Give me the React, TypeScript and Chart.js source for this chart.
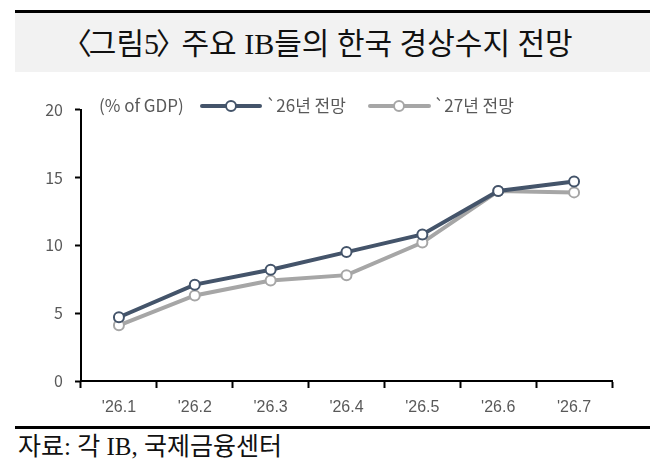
import { useEffect, useRef } from 'react'
import { Chart, registerables } from 'chart.js'

Chart.register(...registerables)

const periods = ["'26.1", "'26.2", "'26.3", "'26.4", "'26.5", "'26.6", "'26.7"]
const outlook26 = [4.7, 7.1, 8.2, 9.5, 10.8, 14.0, 14.7]
const outlook27 = [4.1, 6.3, 7.4, 7.8, 10.2, 14.0, 13.9]
const seriesNames = ['`26년 전망', '`27년 전망']
const unitLabel = '(% of GDP)'

const DARK = '#44546a'
const GRAY = '#a6a6a6'
const TEXT = '#595959'
const SANS = '"Noto Sans CJK KR", "Noto Sans", sans-serif'
const SERIF = '"Liberation Serif", "Noto Sans CJK KR", serif'

// legend sits inside the plot, drawn by hand: line + hollow marker + label
const legendPlugin = {
  id: 'lineLegend',
  afterDraw(chart: Chart) {
    const ctx = chart.ctx
    const y = 18
    ctx.save()
    ctx.font = `17px ${SANS}`
    ctx.fillStyle = TEXT
    ctx.textBaseline = 'middle'
    ctx.textAlign = 'left'
    ctx.fillText(unitLabel, 99, y)

    const items = [
      { x0: 202, x1: 260, mx: 231, tx: 266 },
      { x0: 370, x1: 429, mx: 399, tx: 434 },
    ]
    chart.data.datasets.forEach((ds, i) => {
      const it = items[i]
      if (!it) return
      const color = ds.borderColor as string
      ctx.strokeStyle = color
      ctx.lineWidth = 4
      ctx.lineCap = 'round'
      ctx.beginPath()
      ctx.moveTo(it.x0, y)
      ctx.lineTo(it.x1, y)
      ctx.stroke()
      ctx.beginPath()
      ctx.arc(it.mx, y, 5, 0, Math.PI * 2)
      ctx.fillStyle = '#ffffff'
      ctx.fill()
      ctx.lineWidth = 2
      ctx.stroke()
      ctx.fillStyle = TEXT
      ctx.fillText(ds.label as string, it.tx, y)
    })
    ctx.restore()
  },
}

export default function App() {
  const canvasRef = useRef<HTMLCanvasElement>(null)

  useEffect(() => {
    if (!canvasRef.current) return
    const chart = new Chart(canvasRef.current, {
      type: 'line',
      data: {
        labels: periods,
        datasets: [
          {
            label: seriesNames[0],
            data: outlook26,
            borderColor: DARK,
            borderWidth: 4,
            pointRadius: 5,
            pointBorderWidth: 2,
            pointBackgroundColor: '#ffffff',
            pointBorderColor: DARK,
            tension: 0,
          },
          {
            label: seriesNames[1],
            data: outlook27,
            borderColor: GRAY,
            borderWidth: 4,
            pointRadius: 5,
            pointBorderWidth: 2,
            pointBackgroundColor: '#ffffff',
            pointBorderColor: GRAY,
            tension: 0,
          },
        ],
      },
      options: {
        animation: false,
        responsive: true,
        maintainAspectRatio: false,
        layout: { padding: { top: 20, right: 38, left: 0, bottom: 0 } },
        plugins: {
          legend: { display: false },
          tooltip: { enabled: false },
        },
        scales: {
          x: {
            offset: true,
            grid: {
              offset: true,
              drawOnChartArea: false,
              drawTicks: true,
              tickLength: 7,
              tickWidth: 2,
              tickColor: '#000',
            },
            border: { color: '#000', width: 2 },
            ticks: {
              color: TEXT,
              padding: 10,
              font: { family: '"Liberation Sans Narrow", "Liberation Sans", sans-serif', size: 16 },
            },
            afterFit: (s: any) => {
              s.height = 39
            },
          },
          y: {
            min: 0,
            max: 20,
            ticks: {
              stepSize: 5,
              color: TEXT,
              padding: 12,
              font: { family: SANS, size: 16 },
            },
            grid: {
              drawOnChartArea: false,
              drawTicks: true,
              tickLength: 6,
              tickWidth: 2,
              tickColor: '#000',
            },
            border: { color: '#000', width: 2 },
            afterFit: (s: any) => {
              s.width = 81
            },
          },
        },
      },
      plugins: [legendPlugin],
    })
    return () => chart.destroy()
  }, [])

  return (
    <div style={{ position: 'absolute', left: 0, top: 0, width: 650, height: 465, background: '#fff', overflow: 'hidden' }}>
      <div
        style={{
          position: 'absolute',
          left: 15,
          top: 10,
          width: 635,
          height: 62,
          background: '#f2f2f2',
          borderTop: '3px solid #000',
          boxSizing: 'border-box',
          display: 'flex',
          alignItems: 'center',
          justifyContent: 'center',
          paddingRight: 20,
          paddingBottom: 3,
          fontFamily: SERIF,
          fontSize: 30,
          color: '#111',
          whiteSpace: 'nowrap',
        }}
      >
        <span style={{ marginLeft: '-0.35em', marginRight: '-0.1em' }}>〈</span>
        <span>그림5</span>
        <span style={{ marginLeft: '-0.1em', marginRight: '-0.4em' }}>〉</span>
        <span>&nbsp;주요 IB들의 한국 경상수지 전망</span>
      </div>
      <div style={{ position: 'absolute', left: 0, top: 88, width: 650, height: 332 }}>
        <canvas ref={canvasRef} />
      </div>
      <div style={{ position: 'absolute', left: 15, top: 426, width: 635, borderTop: '3px solid #000' }} />
      <div
        style={{
          position: 'absolute',
          left: 18,
          top: 426,
          fontFamily: SERIF,
          fontSize: 25,
          color: '#111',
          whiteSpace: 'nowrap',
        }}
      >
        자료: 각 IB, 국제금융센터
      </div>
    </div>
  )
}
